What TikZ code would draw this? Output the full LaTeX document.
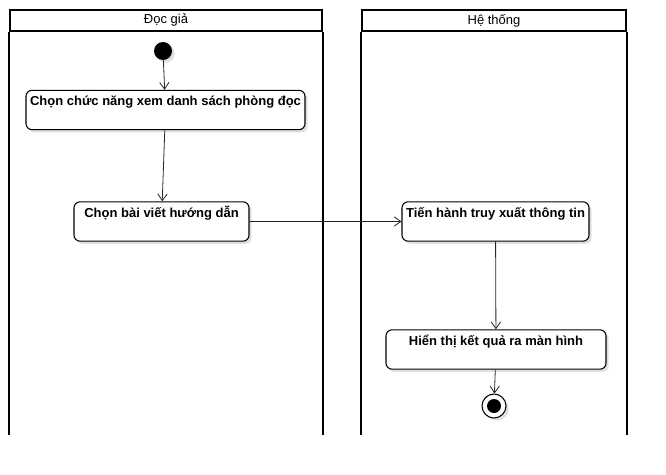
\documentclass[tikz,border=0pt]{standalone}
\usepackage{fontspec}
\setmainfont{Liberation Sans}
\usetikzlibrary{arrows.meta,shadows}

\begin{document}
\begin{tikzpicture}[x=0.75pt,y=-0.75pt,
    lanehead/.style={draw=black,line width=1.5pt,minimum height=15.75pt,inner sep=0pt,font=\fontsize{9.75}{11}\selectfont},
    action/.style={draw=black,fill=white,rounded corners=4.5pt,line width=0.8pt,inner xsep=2pt,inner ysep=4pt,
      text height=7.5pt,text depth=14pt,font=\bfseries\fontsize{9.75}{11}\selectfont,
      drop shadow={shadow xshift=2pt,shadow yshift=-2pt,fill=black,opacity=0.12}},
    initial/.style={circle,fill=black,minimum size=13.5pt,inner sep=0pt,
      drop shadow={shadow xshift=2pt,shadow yshift=-2pt,fill=black,opacity=0.12}},
    final/.style={circle,draw=black,line width=0.8pt,fill=white,minimum size=18pt,inner sep=0pt,
      drop shadow={shadow xshift=2pt,shadow yshift=-2pt,fill=black,opacity=0.12},
      path picture={\fill[black] (path picture bounding box.center) circle (5.25pt);}},
    flow/.style={draw=black!85,line width=0.6pt,-{Straight Barb[length=5pt,width=7pt]}}]
  \useasboundingbox (0,0) rectangle (666,474);

  % swimlanes
  \node (laneA) [lanehead,minimum width=234pt] at (166,20.5) {Đọc giả};
  \node (laneB) [lanehead,minimum width=198pt] at (494,20.5) {Hệ thống};
  \draw [line width=1.5pt] (laneA.south west) -- ++(0,403) (laneA.south east) -- ++(0,403);
  \draw [line width=1.5pt] (laneB.south west) -- ++(0,403) (laneB.south east) -- ++(0,403);

  % activities
  \node (start) [initial] at (163,51) {};
  \node (view) [action,minimum width=209.25pt] at (165.5,110) {Chọn chức năng xem danh sách phòng đọc};
  \node (guide) [action,minimum width=131.25pt] at (161.5,221.5) {Chọn bài viết hướng dẫn};
  \node (fetch) [action,minimum width=140.25pt] at (495.5,221.5) {Tiến hành truy xuất thông tin};
  \node (show) [action,minimum width=165pt] at (496,349.5) {Hiển thị kết quả ra màn hình};
  \node (stop) [final] at (494,406) {};

  % flows
  \draw [flow] (start) -- (view);
  \draw [flow] (view) -- (guide);
  \draw [flow] (guide) -- (fetch);
  \draw [flow] (fetch) -- (show);
  \draw [flow] (show) -- (stop);
\end{tikzpicture}
\end{document}
